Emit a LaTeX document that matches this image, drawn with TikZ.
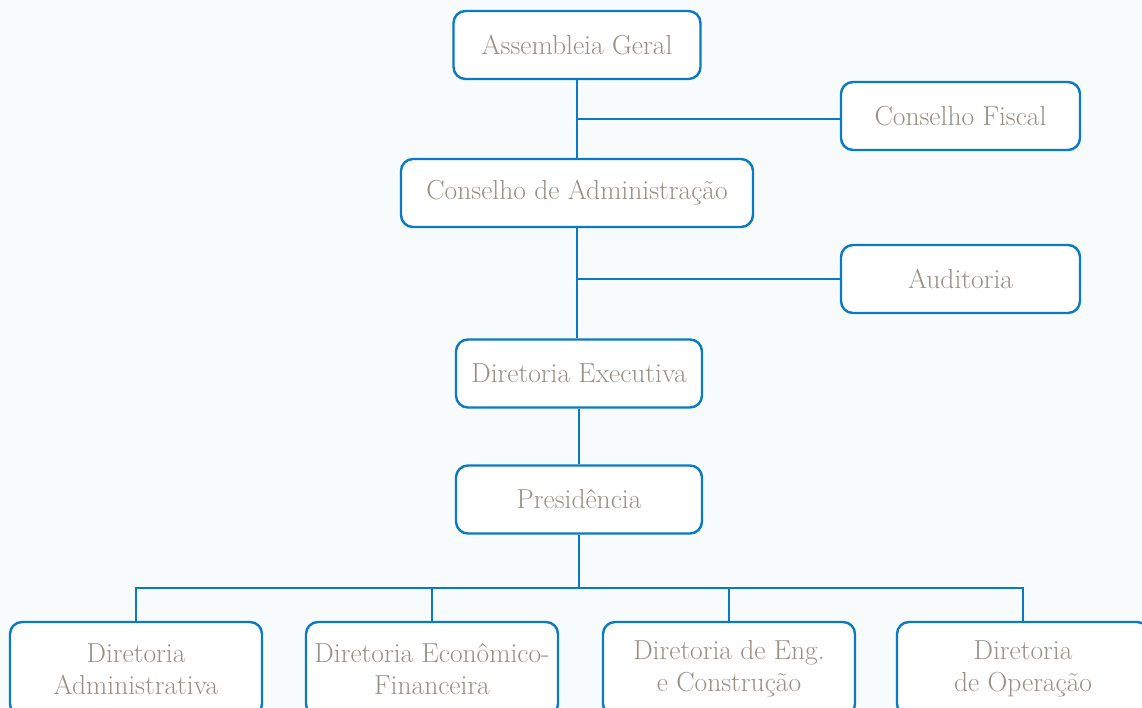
\documentclass[tikz,border=0pt]{standalone}
\usepackage{fontspec}
\usepackage{tikz}

\definecolor{orgblue}{HTML}{0A7AC4}
\definecolor{orgtext}{HTML}{9A8F85}
\definecolor{orgback}{HTML}{F8FBFB}

\tikzset{
	unit/.style={draw=orgblue, line width=2.4pt, rounded corners=12pt, fill=white,
		text=orgtext, font=\fontsize{27.5}{32}\selectfont, align=center,
		minimum height=68pt, inner sep=0pt},
	link/.style={draw=orgblue, line width=2.4pt},
}

\begin{document}
\begin{tikzpicture}[x=1pt, y=-1pt]
	\clip (0, 0) rectangle (1142, 708);
	\fill[orgback] (0, 0) rectangle (1142, 708);
	% main column
	\node[unit, minimum width=247pt] (ag) at (577, 45) {Assembleia Geral};
	\node[unit, minimum width=352pt] (ca) at (577, 193) {Conselho de Administração};
	\node[unit, minimum width=246pt] (de) at (579, 373.5) {Diretoria Executiva};
	\node[unit, minimum width=246pt] (pr) at (579, 499.5) {Presidência};
	% side units
	\node[unit, minimum width=239pt] (cf) at (960.5, 116) {Conselho Fiscal};
	\node[unit, minimum width=239pt] (au) at (960.5, 279) {Auditoria};
	% directorates
	\node[unit, minimum width=252pt, minimum height=94pt] (da) at (136, 669) {Diretoria\\Administrativa};
	\node[unit, minimum width=252pt, minimum height=94pt] (df) at (432, 669) {Diretoria Econômico-\\Financeira};
	\node[unit, minimum width=252pt, minimum height=94pt] (dc) at (729, 669) {Diretoria de Eng.\\e Construção};
	\node[unit, minimum width=252pt, minimum height=94pt] (dp) at (1023, 669) {Diretoria\\de Operação};
	% trunk
	\draw[link] (ag.south) -- (ag.south |- ca.north);
	\draw[link] (ca.south) -- (ca.south -| ag.south) coordinate (t1) -- (t1 |- de.north);
	\draw[link] (de.south) -- (pr.north);
	\draw[link] (pr.south) -- ++(0, 53) coordinate (bus);
	% branches
	\draw[link] ([yshift=-3pt]cf.west) -- ([yshift=-3pt]cf.west -| ag.south);
	\draw[link] (au.west) -- (au.west -| t1);
	% bus
	\draw[link] (da.north) -- (da.north |- bus) -- (dp.north |- bus) -- (dp.north);
	\draw[link] (df.north) -- (df.north |- bus);
	\draw[link] (dc.north) -- (dc.north |- bus);
\end{tikzpicture}
\end{document}
